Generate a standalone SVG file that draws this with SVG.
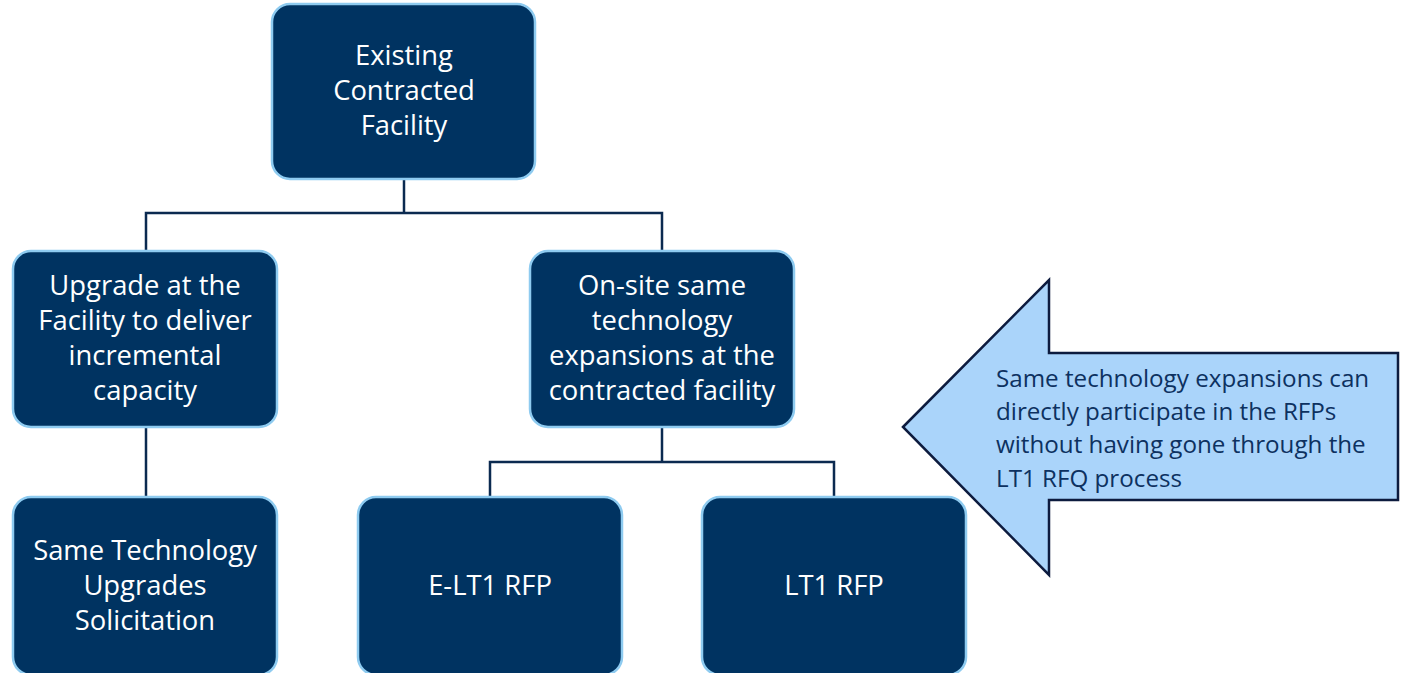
<svg xmlns="http://www.w3.org/2000/svg" width="1402" height="673" viewBox="0 0 1402 673">
<style>
.node rect{fill:#003361;stroke:#8ECBF0;stroke-width:2.5}
.node text{fill:#ffffff;font-family:"Open Sans",Lato,sans-serif;font-size:27.4px;text-anchor:middle}
.conn{stroke:#0B2A50;stroke-width:2.5;fill:none}
.callout{fill:#AAD4FA;stroke:#0D1B3E;stroke-width:2.5}
.ctext{fill:#0D3160;font-family:"Open Sans",Lato,sans-serif;font-size:24.2px}
</style>
<rect width="1402" height="673" fill="#ffffff"/>
<g id="connectors">
<polyline class="conn" points="404,179 404,213"/>
<polyline class="conn" points="146,251 146,213 662,213 662,251"/>
<polyline class="conn" points="146,427 146,497"/>
<polyline class="conn" points="662,427 662,462"/>
<polyline class="conn" points="490,497 490,462 834,462 834,497"/>
</g>
<g id="n-existing" class="node">
<rect x="272" y="4" width="263" height="175" rx="18"/>
<text x="404" y="65">Existing</text>
<text x="404" y="100">Contracted</text>
<text x="404" y="135">Facility</text>
</g>
<g id="n-upgrade" class="node">
<rect x="13" y="251" width="264" height="176" rx="18"/>
<text x="145" y="295">Upgrade at the</text>
<text x="145" y="330">Facility to deliver</text>
<text x="145" y="365">incremental</text>
<text x="145" y="400">capacity</text>
</g>
<g id="n-onsite" class="node">
<rect x="530" y="251" width="264" height="176" rx="18"/>
<text x="662" y="295">On-site same</text>
<text x="662" y="330">technology</text>
<text x="662" y="365">expansions at the</text>
<text x="662" y="400">contracted facility</text>
</g>
<g id="n-sametech" class="node">
<rect x="13" y="497" width="264" height="178" rx="18"/>
<text x="145" y="560">Same Technology</text>
<text x="145" y="595">Upgrades</text>
<text x="145" y="630">Solicitation</text>
</g>
<g id="n-elt1" class="node">
<rect x="358" y="497" width="264" height="178" rx="18"/>
<text x="490" y="595">E-LT1 RFP</text>
</g>
<g id="n-lt1" class="node">
<rect x="702" y="497" width="264" height="178" rx="18"/>
<text x="834" y="595">LT1 RFP</text>
</g>
<g id="callout">
<polygon class="callout" points="903,427 1049,280 1049,353 1398,353 1398,500 1049,500 1049,575"/>
<text class="ctext" x="996" y="387">Same technology expansions can</text>
<text class="ctext" x="996" y="420">directly participate in the RFPs</text>
<text class="ctext" x="996" y="453">without having gone through the</text>
<text class="ctext" x="996" y="487">LT1 RFQ process</text>
</g>
</svg>
